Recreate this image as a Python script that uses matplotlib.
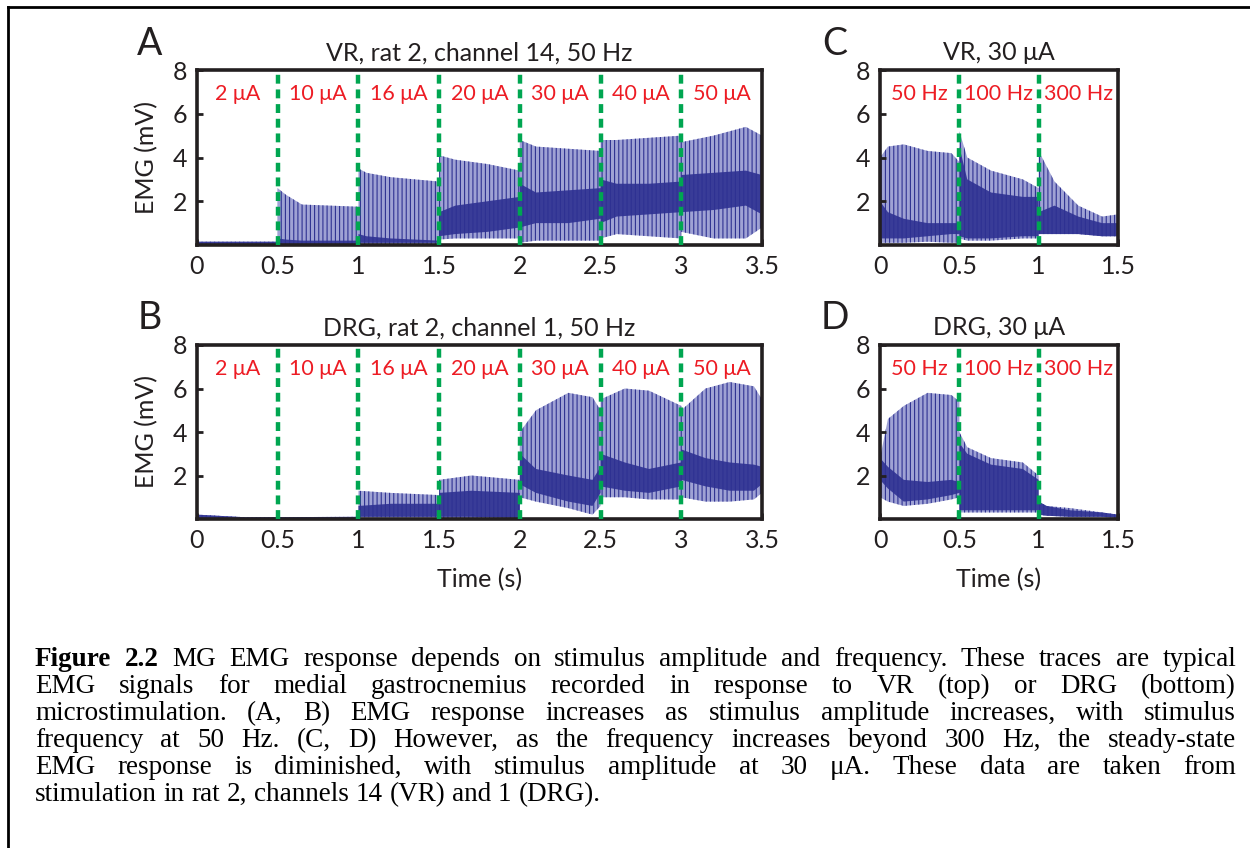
import numpy as np
import matplotlib.pyplot as plt
from matplotlib.lines import Line2D

plt.rcParams['font.family'] = ['Lato', 'DejaVu Sans']
plt.rcParams['hatch.linewidth'] = 0.8

NAVY = '#2e3192'
LIGHT = '#9fa2d4'
GREEN = '#00a651'
RED = '#ed1c24'

# envelopes (mV): peak of spikes, dark band, floor
# A: VR, rat 2, channel 14, 50 Hz
a_t = [0, 0.5, 0.5, 0.55, 0.65, 1.0, 1.0, 1.05, 1.2, 1.5, 1.5, 1.6, 1.8, 2.0,
       2.0, 2.1, 2.3, 2.5, 2.5, 2.6, 2.8, 3.0, 3.0, 3.2, 3.4, 3.5]
a_peak = [0.15, 0.15, 2.6, 2.3, 1.85, 1.75, 3.5, 3.3, 3.1, 2.9, 4.1, 3.9, 3.7, 3.4,
          4.8, 4.5, 4.4, 4.3, 4.8, 4.8, 4.9, 5.0, 4.7, 5.0, 5.4, 5.0]
a_dhi = [0.15, 0.15, 0.3, 0.25, 0.2, 0.2, 0.5, 0.4, 0.3, 0.2, 1.5, 1.8, 2.0, 2.2,
         2.8, 2.4, 2.5, 2.6, 3.0, 2.8, 2.8, 2.9, 3.2, 3.3, 3.4, 3.2]
a_dlo = [0.05, 0.05, 0.05, 0.05, 0.05, 0.05, 0.1, 0.1, 0.1, 0.1, 0.4, 0.5, 0.6, 0.8,
         0.8, 1.0, 1.0, 1.2, 1.0, 1.3, 1.4, 1.5, 1.5, 1.6, 1.8, 1.4]
a_low = [0.05, 0.05, 0.05, 0.05, 0.05, 0.05, 0.05, 0.05, 0.05, 0.05, 0.25, 0.3, 0.3, 0.3,
         0.1, 0.2, 0.2, 0.2, 0.3, 0.5, 0.4, 0.3, 0.6, 0.3, 0.3, 0.8]

# B: DRG, rat 2, channel 1, 50 Hz
b_t = [0, 0.3, 1.0, 1.0, 1.2, 1.5, 1.5, 1.7, 2.0, 2.0, 2.1, 2.3, 2.45, 2.5,
       2.5, 2.65, 2.8, 3.0, 3.0, 3.15, 3.3, 3.45, 3.5]
b_peak = [0.2, 0.08, 0.1, 1.3, 1.2, 1.1, 1.8, 2.0, 1.8, 4.0, 5.0, 5.8, 5.6, 5.0,
          5.5, 6.0, 5.9, 5.2, 5.0, 6.0, 6.3, 6.1, 5.5]
b_dhi = [0.2, 0.08, 0.1, 0.6, 0.7, 0.7, 1.2, 1.3, 1.2, 3.0, 2.3, 2.0, 1.8, 2.4,
         3.0, 2.6, 2.3, 2.6, 3.2, 2.8, 2.6, 2.5, 2.4]
b_dlo = [0.0, 0.0, 0.0, 0.1, 0.1, 0.1, 0.1, 0.1, 0.05, 1.6, 1.2, 0.8, 0.6, 1.2,
         1.5, 1.3, 1.2, 1.5, 1.8, 1.5, 1.3, 1.3, 1.6]
b_low = [0.0, 0.0, 0.0, 0.08, 0.08, 0.08, 0.05, 0.05, 0.05, 1.0, 0.8, 0.5, 0.2, 0.6,
         1.0, 1.0, 0.9, 0.9, 1.0, 0.8, 0.8, 0.9, 1.2]

# C: VR, 30 uA, 50/100/300 Hz
c_t = [0, 0.05, 0.15, 0.3, 0.45, 0.5, 0.5, 0.55, 0.7, 0.9, 1.0, 1.0, 1.1, 1.25, 1.4, 1.5]
c_peak = [4.0, 4.5, 4.6, 4.3, 4.2, 3.8, 5.2, 4.0, 3.4, 3.0, 2.6, 4.3, 2.9, 1.8, 1.3, 1.4]
c_dhi = [2.0, 1.5, 1.2, 1.0, 1.0, 1.0, 4.5, 3.0, 2.4, 2.2, 2.2, 1.5, 1.8, 1.3, 1.0, 1.0]
c_dlo = [0.3, 0.3, 0.3, 0.4, 0.5, 0.5, 0.4, 0.3, 0.3, 0.4, 0.4, 0.5, 0.5, 0.5, 0.4, 0.4]
c_low = [0.1, 0.1, 0.1, 0.15, 0.1, 0.1, 0.3, 0.2, 0.2, 0.3, 0.3, 0.5, 0.5, 0.5, 0.4, 0.4]

# D: DRG, 30 uA, 50/100/300 Hz
d_t = [0, 0.05, 0.15, 0.3, 0.45, 0.5, 0.5, 0.55, 0.7, 0.9, 1.0, 1.0, 1.05, 1.2, 1.4, 1.5]
d_peak = [2.8, 4.6, 5.2, 5.8, 5.7, 5.4, 4.0, 3.3, 2.8, 2.6, 2.0, 0.8, 0.6, 0.5, 0.3, 0.2]
d_dhi = [2.8, 2.4, 1.8, 1.7, 1.8, 1.7, 3.5, 3.0, 2.5, 2.3, 1.8, 0.8, 0.6, 0.4, 0.3, 0.2]
d_dlo = [1.8, 1.4, 0.8, 0.9, 1.1, 1.2, 0.4, 0.4, 0.4, 0.4, 0.4, 0.2, 0.15, 0.1, 0.1, 0.05]
d_low = [1.0, 0.8, 0.6, 0.7, 0.9, 1.0, 0.3, 0.3, 0.3, 0.3, 0.3, 0.2, 0.15, 0.1, 0.1, 0.05]

amp_labels = ['2 μA', '10 μA', '16 μA', '20 μA', '30 μA', '40 μA', '50 μA']
freq_labels = ['50 Hz', '100 Hz', '300 Hz']
amp_ticks = [0, 0.5, 1, 1.5, 2, 2.5, 3, 3.5]
freq_ticks = [0, 0.5, 1, 1.5]

caption = [
    "Figure 2.2 MG EMG response depends on stimulus amplitude and frequency. These traces are typical",
    "EMG signals for medial gastrocnemius recorded in response to VR (top) or DRG (bottom)",
    "microstimulation. (A, B) EMG response increases as stimulus amplitude increases, with stimulus",
    "frequency at 50 Hz. (C, D) However, as the frequency increases beyond 300 Hz, the steady-state",
    "EMG response is diminished, with stimulus amplitude at 30 μA. These data are taken from",
    "stimulation in rat 2, channels 14 (VR) and 1 (DRG).",
]

W, H = 1250, 848
fig = plt.figure(figsize=(W / 100, H / 100), dpi=100)


def px_axes(x0, x1, ytop, ybot):
    return fig.add_axes([x0 / W, 1 - ybot / H, (x1 - x0) / W, (ybot - ytop) / H])


def panel(ax, t, peak, dhi, dlo, low, ticks, labels, title, ylab, xlab):
    ax.fill_between(t, low, peak, facecolor=LIGHT, edgecolor=NAVY, hatch='||||', linewidth=0)
    ax.fill_between(t, dlo, dhi, facecolor=NAVY, linewidth=0, alpha=0.9)
    ax.set_xlim(ticks[0], ticks[-1])
    ax.set_ylim(0, 8)
    ax.set_xticks(ticks)
    ax.set_xticklabels([('%g' % v) for v in ticks])
    ax.set_yticks([2, 4, 6, 8])
    ax.tick_params(direction='in', length=4, width=2, labelsize=18, pad=7, colors='#231f20')
    for s in ax.spines.values():
        s.set_linewidth(2.6)
        s.set_color('#231f20')
    for b in ticks[1:-1]:
        ax.axvline(b, color=GREEN, lw=3.2, dashes=(2.0, 1.3), zorder=5)
    for i, lab in enumerate(labels):
        ax.text(ticks[i] + 0.25, 6.9, lab, color=RED, fontsize=15.5, ha='center', va='center')
    ax.set_title(title, fontsize=18, pad=7, color='#231f20')
    if ylab:
        ax.set_ylabel('EMG (mV)', fontsize=18, labelpad=10, color='#231f20')
    if xlab:
        ax.set_xlabel('Time (s)', fontsize=18, labelpad=12, color='#231f20')


ax_a = px_axes(197, 762, 70, 245)
ax_b = px_axes(197, 762, 345, 519)
ax_c = px_axes(880, 1118, 70, 245)
ax_d = px_axes(880, 1118, 345, 519)

panel(ax_a, a_t, a_peak, a_dhi, a_dlo, a_low, amp_ticks, amp_labels,
      'VR, rat 2, channel 14, 50 Hz', True, False)
panel(ax_b, b_t, b_peak, b_dhi, b_dlo, b_low, amp_ticks, amp_labels,
      'DRG, rat 2, channel 1, 50 Hz', True, True)
panel(ax_c, c_t, c_peak, c_dhi, c_dlo, c_low, freq_ticks, freq_labels,
      'VR, 30 μA', False, False)
panel(ax_d, d_t, d_peak, d_dhi, d_dlo, d_low, freq_ticks, freq_labels,
      'DRG, 30 μA', False, True)

for letter, x, y in [('A', 150, 44), ('B', 150, 318), ('C', 835, 44), ('D', 835, 318)]:
    fig.text(x / W, 1 - y / H, letter, fontsize=27, ha='center', va='center', color='#231f20')

# page frame
fig.add_artist(Line2D([8 / W, 1], [1 - 7 / H, 1 - 7 / H], color='black', lw=2))
fig.add_artist(Line2D([8 / W, 8 / W], [0, 1 - 7 / H], color='black', lw=2))

# justified caption
fig.canvas.draw()
r = fig.canvas.get_renderer()
left, right = 35, 1236
fs = 19.5
for i, line in enumerate(caption):
    y = 1 - (666 + i * 27) / H
    words = line.split(' ')
    texts = []
    for j, w in enumerate(words):
        wt = 'bold' if (i == 0 and j < 2) else 'normal'
        texts.append(fig.text(0, y, w, fontsize=fs, family='Liberation Serif',
                              weight=wt, va='baseline', ha='left'))
    widths = [t.get_window_extent(r).width for t in texts]
    if i == len(caption) - 1:
        gap = fs * 1.389 * 0.25
    else:
        gap = (right - left - sum(widths)) / (len(words) - 1)
    x = left
    for t, w in zip(texts, widths):
        t.set_x(x / W)
        x += w + gap

fig.savefig('out.png', dpi=100)
